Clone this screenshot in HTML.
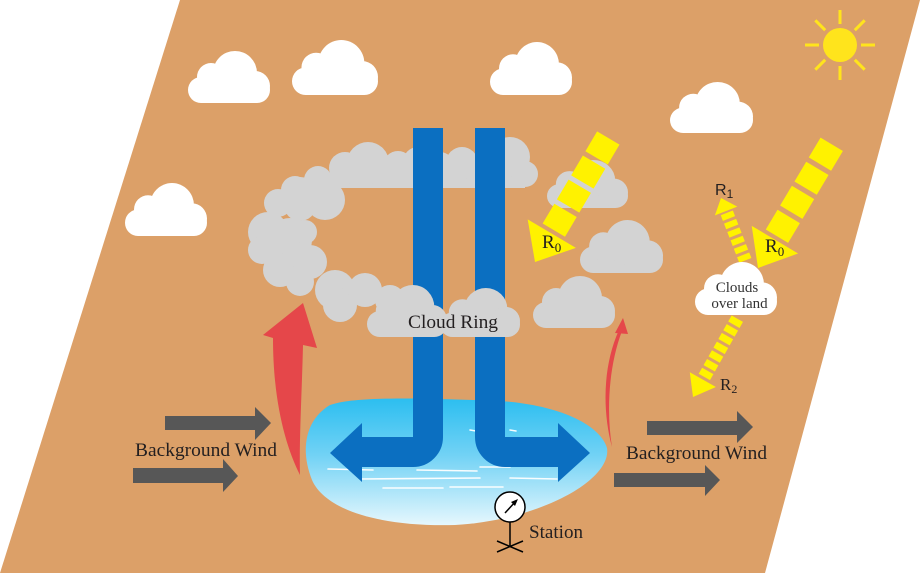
<!DOCTYPE html>
<html><head><meta charset="utf-8"><style>html,body{margin:0;padding:0;background:#fff}svg{display:block}</style></head>
<body>
<svg width="920" height="573" viewBox="0 0 920 573" xmlns="http://www.w3.org/2000/svg">
<defs>
<symbol id="cl" viewBox="0 0 82 52" preserveAspectRatio="none">
<rect x="0" y="26" width="82" height="26" rx="13"/>
<circle cx="23" cy="26" r="14"/>
<circle cx="47" cy="22" r="22"/>
<circle cx="67" cy="35" r="15"/>
</symbol>
<linearGradient id="lk" x1="0" y1="0" x2="0" y2="1">
<stop offset="0" stop-color="#2CBEF0"/>
<stop offset="0.45" stop-color="#72D2F5"/>
<stop offset="1" stop-color="#E6F7FD"/>
</linearGradient>
</defs>
<rect width="920" height="573" fill="#fff"/>
<polygon points="180,0 920,0 765,573 0,573" fill="#DCA068"/>

<!-- white clouds -->
<g fill="#fff">
<use href="#cl" x="188" y="51" width="82" height="52"/>
<use href="#cl" x="292" y="40" width="86" height="55"/>
<use href="#cl" x="125" y="183" width="82" height="53"/>
<use href="#cl" x="490" y="42" width="82" height="53"/>
<use href="#cl" x="670" y="82" width="83" height="51"/>
</g>

<!-- sun -->
<g stroke="#FFE41C" stroke-width="3" stroke-linecap="butt">
<line x1="861" y1="45" x2="875" y2="45"/>
<line x1="854.8" y1="59.8" x2="864.7" y2="69.7"/>
<line x1="840" y1="66" x2="840" y2="80"/>
<line x1="825.2" y1="59.8" x2="815.3" y2="69.7"/>
<line x1="819" y1="45" x2="805" y2="45"/>
<line x1="825.2" y1="30.2" x2="815.3" y2="20.3"/>
<line x1="840" y1="24" x2="840" y2="10"/>
<line x1="854.8" y1="30.2" x2="864.7" y2="20.3"/>
</g>
<circle cx="840" cy="45" r="17" fill="#FFE41C"/>

<!-- gray clouds right -->
<g fill="#D3D3D3">
<use href="#cl" x="547" y="160" width="81" height="48"/>
<use href="#cl" x="580" y="220" width="83" height="53"/>
<use href="#cl" x="533" y="276" width="82" height="52"/>
</g>

<!-- lake -->
<path d="M330,405 C355,396 420,398 500,401 C560,405 600,425 607,448 C612,480 540,520 455,525 C380,527 325,510 312,480 C300,450 305,420 330,405 Z" fill="url(#lk)"/>
<g stroke="#fff" stroke-width="1.6" fill="none" stroke-linecap="round" opacity="0.95">
<line x1="328" y1="469" x2="373" y2="470"/>
<line x1="417" y1="470" x2="477" y2="471"/>
<line x1="480" y1="467" x2="510" y2="467"/>
<line x1="360" y1="479" x2="480" y2="478"/>
<line x1="510" y1="478" x2="557" y2="479"/>
<line x1="383" y1="488" x2="443" y2="488"/>
<line x1="450" y1="487" x2="503" y2="487"/>
<line x1="470" y1="430" x2="476" y2="431"/>
<line x1="510" y1="430" x2="516" y2="431"/>
</g>

<!-- cloud ring (back part) -->
<g fill="#D3D3D3">
<rect x="330" y="166" width="195" height="22"/>
<circle cx="345" cy="168" r="16"/>
<circle cx="368" cy="163" r="21"/>
<circle cx="398" cy="166" r="15"/>
<circle cx="418" cy="162" r="15"/>
<circle cx="440" cy="166" r="14"/>
<circle cx="462" cy="163" r="16"/>
<circle cx="488" cy="165" r="14"/>
<circle cx="510" cy="157" r="20"/>
<circle cx="525" cy="174" r="13"/>
<circle cx="318" cy="180" r="14"/>
<circle cx="300" cy="195" r="18"/>
<circle cx="295" cy="190" r="14"/>
<circle cx="278" cy="203" r="14"/>
<circle cx="325" cy="200" r="20"/>
<circle cx="300" cy="205" r="16"/>
<circle cx="268" cy="232" r="20"/>
<circle cx="262" cy="250" r="14"/>
<circle cx="290" cy="240" r="22"/>
<circle cx="285" cy="255" r="22"/>
<circle cx="305" cy="232" r="12"/>
<circle cx="280" cy="270" r="17"/>
<circle cx="310" cy="262" r="17"/>
<circle cx="300" cy="282" r="14"/>
<circle cx="335" cy="290" r="20"/>
<circle cx="340" cy="305" r="17"/>
<circle cx="365" cy="290" r="17"/>
<circle cx="390" cy="300" r="15"/>
</g>

<!-- blue L arrows -->
<g fill="none" stroke="#0B6FC1" stroke-width="30">
<path d="M428,128 V437 A15,15 0 0 1 413,452 H360"/>
<path d="M490,128 V437 A15,15 0 0 0 505,452 H560"/>
</g>
<g fill="#0B6FC1">
<polygon points="362,423 362,482 330,453"/>
<polygon points="558,423 558,482 590,453"/>
</g>

<!-- front cloud ring -->
<g fill="#D3D3D3">
<use href="#cl" x="367" y="285" width="80" height="52"/>
<use href="#cl" x="440" y="288" width="80" height="49"/>
</g>

<g font-family="'Liberation Serif', serif" fill="#231F20">
<text x="408" y="328" font-size="19" textLength="90" lengthAdjust="spacingAndGlyphs">Cloud Ring</text>
<text x="135" y="456" font-size="19" textLength="142" lengthAdjust="spacingAndGlyphs">Background Wind</text>
<text x="626" y="459" font-size="19" textLength="141" lengthAdjust="spacingAndGlyphs">Background Wind</text>
<text x="529" y="538" font-size="19" textLength="54" lengthAdjust="spacingAndGlyphs">Station</text>
</g>

<!-- red arrows -->
<path d="M303,303 L317,348 L303,345 C302,390 299,440 300,475 C285,445 273,400 273,338 L263,335 Z" fill="#E5474A"/>
<path d="M612,447 C602,410 603,365 619,330 L622,331 C609,365 606,410 612,447 Z" fill="#E5474A"/>
<polygon points="623,318 615,333 628,334" fill="#E5474A"/>

<!-- gray wind arrows -->
<g fill="#575757">
<rect x="165" y="416" width="92" height="14"/>
<polygon points="255,407 271,423 255,440"/>
<rect x="133" y="468" width="92" height="15"/>
<polygon points="223,459 238,476 223,492"/>
<rect x="647" y="421" width="92" height="14"/>
<polygon points="737,411 753,427 737,443"/>
<rect x="614" y="473" width="93" height="14"/>
<polygon points="705,465 720,480 705,496"/>
</g>

<!-- yellow arrows -->
<g fill="#FFF200">
<g transform="translate(535,262) rotate(120.6)">
<polygon points="0,0 -33,-28 -33,28"/>
<rect x="-60" y="-13" width="23" height="26"/>
<rect x="-88" y="-13" width="23" height="26"/>
<rect x="-116" y="-13" width="23" height="26"/>
<rect x="-144" y="-13" width="23" height="26"/>
</g>
<g transform="translate(721,198) rotate(-111.3)">
<polygon points="0,0 -14,-12 -14,12"/>
<rect x="-22" y="-6.5" width="6" height="13"/>
<rect x="-31" y="-6.5" width="6" height="13"/>
<rect x="-40" y="-6.5" width="6" height="13"/>
<rect x="-49" y="-6.5" width="6" height="13"/>
<rect x="-58" y="-6.5" width="6" height="13"/>
<rect x="-67" y="-6.5" width="6" height="13"/>
</g>
<g transform="translate(693,397) rotate(119.5)">
<polygon points="0,0 -20,-15 -20,15"/>
<rect x="-30" y="-6.5" width="7" height="13"/>
<rect x="-40" y="-6.5" width="7" height="13"/>
<rect x="-50" y="-6.5" width="7" height="13"/>
<rect x="-60" y="-6.5" width="7" height="13"/>
<rect x="-70" y="-6.5" width="7" height="13"/>
<rect x="-80" y="-6.5" width="7" height="13"/>
<rect x="-90" y="-6.5" width="7" height="13"/>
</g>
</g>

<!-- clouds over land -->
<use href="#cl" x="695" y="262" width="82" height="53" fill="#fff"/>

<g fill="#FFF200">
<g transform="translate(758,268) rotate(120.8)">
<polygon points="0,0 -33,-27 -33,27"/>
<rect x="-60" y="-13" width="23" height="26"/>
<rect x="-88" y="-13" width="23" height="26"/>
<rect x="-116" y="-13" width="23" height="26"/>
<rect x="-144" y="-13" width="23" height="26"/>
</g>
</g>

<g font-family="'Liberation Serif', serif" fill="#231F20">
<text x="737" y="292" font-size="15" text-anchor="middle" fill="#333">Clouds</text>
<text x="739.5" y="308" font-size="15" text-anchor="middle" fill="#333">over land</text>
<text x="542" y="248" font-size="19">R<tspan font-size="13" dy="4">0</tspan></text>
<text x="765" y="252" font-size="19">R<tspan font-size="13" dy="4">0</tspan></text>
<text x="720" y="390" font-size="17">R<tspan font-size="12" dy="3">2</tspan></text>
</g>
<text x="715" y="195" font-family="'Liberation Sans', sans-serif" font-size="16" fill="#231F20">R<tspan font-size="12" dy="3">1</tspan></text>

<!-- station -->
<g stroke="#000" stroke-width="1.5" fill="none">
<circle cx="510" cy="507" r="15" fill="#fff"/>
<line x1="505" y1="513" x2="516" y2="501"/>
<line x1="510" y1="522" x2="510" y2="547"/>
<line x1="497" y1="541" x2="523" y2="552"/>
<line x1="497" y1="552" x2="523" y2="541"/>
</g>
<polygon points="518,499 511,502 515,506" fill="#000"/>
</svg>
</body></html>
